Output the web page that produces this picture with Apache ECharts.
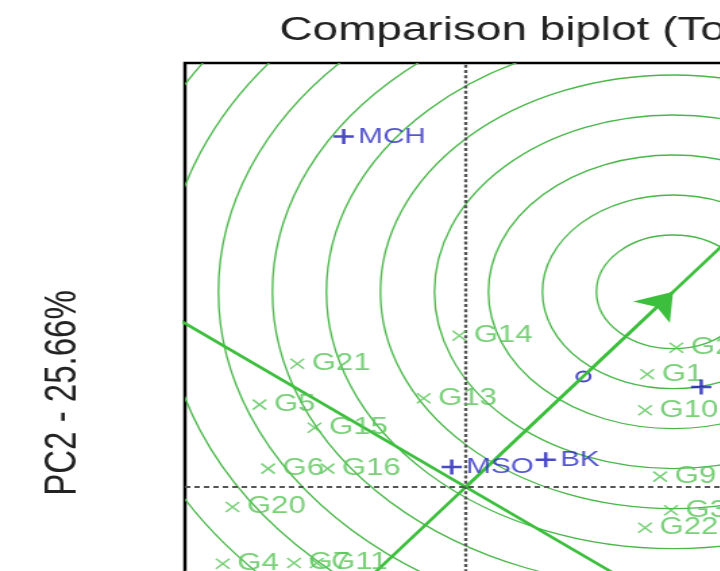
<!DOCTYPE html>
<html>
<head>
<meta charset="utf-8">
<script src="https://cdn.jsdelivr.net/npm/echarts@6/dist/echarts.min.js"></script>
<style>
  html, body { margin: 0; padding: 0; background: #fff; overflow: hidden; }
  #wrap { width: 720px; height: 571px; overflow: hidden; position: relative; }
  /* the biplot is drawn with an equal-aspect grid and widened horizontally */
  #chart { width: 640px; height: 760px; transform: scaleX(1.35); transform-origin: 0 0; }
</style>
</head>
<body>
<div id="wrap"><div id="chart"></div></div>
<script>
// Genotype scores (PC1, PC2)
const genotypes = ['G1', 'G2', 'G3', 'G4', 'G5', 'G6', 'G7', 'G9', 'G10', 'G11', 'G13', 'G14', 'G15', 'G16', 'G20', 'G21', 'G22'];
const genoPC1 = [1.68, 1.95, 1.90, -2.25, -1.91, -1.83, -1.59, 1.80, 1.66, -1.38, -0.39, -0.06, -1.40, -1.28, -2.16, -1.56, 1.66];
const genoPC2 = [1.41, 1.74, -0.29, -0.96, 1.03, 0.23, -0.95, 0.13, 0.96, -0.95, 1.11, 1.89, 0.74, 0.23, -0.25, 1.54, -0.51];

// Environment scores (PC1, PC2)
const environments = ['MCH', 'MSO', 'BK', ''];
const envPC1 = [-1.13, -0.13, 0.74, 2.18];
const envPC2 = [4.38, 0.25, 0.34, 1.25];

// Ideal environment (ring centre), average environment, ring radii
const idealEnv = [1.92, 2.44];
const averageEnv = [1.09, 1.38];
const ringRadii = [0.71, 1.21, 1.71, 2.21, 2.71, 3.21, 3.71, 4.21, 4.71, 5.21, 5.71, 6.21];

const GREEN_LINE = '#3cbf3c';
const GREEN_RING = '#48b748';
const GREEN_TEXT = '#58c458';
const BLUE = '#1c1cb4';
const BLUE_TEXT = '#2b2bc4';
const FONT = 'Liberation Sans, Arial, Helvetica, sans-serif';

// Average-environment axis through the origin and its perpendicular
const len = Math.hypot(idealEnv[0], idealEnv[1]);
const ux = idealEnv[0] / len, uy = idealEnv[1] / len;
const far = 20;
const aeaLine = [[-far * ux, -far * uy], [far * ux, far * uy]];
const perpLine = [[-far * uy, far * ux], [far * uy, -far * ux]];

const chart = echarts.init(document.getElementById('chart'), null, { renderer: 'canvas' });

chart.setOption({
  animation: false,
  backgroundColor: '#fff',
  title: {
    text: 'Comparison biplot (Total)',
    left: 202,
    top: 9,
    textStyle: { fontFamily: FONT, fontSize: 34, fontWeight: 'normal', color: '#222' }
  },
  grid: {
    left: 137, top: 63, width: 480, height: 660,
    outerBoundsMode: 'none',
    show: true, borderColor: '#000', borderWidth: 2.5, backgroundColor: 'transparent'
  },
  xAxis: {
    type: 'value', min: -2.6, max: 3.4,
    axisLine: { show: false }, axisTick: { show: false },
    axisLabel: { show: false }, splitLine: { show: false }
  },
  yAxis: {
    type: 'value', min: -2.95, max: 5.3,
    name: 'PC2 - 25.66%', nameLocation: 'middle', nameRotate: 90, nameGap: 74,
    nameTextStyle: { fontFamily: FONT, fontSize: 33, color: '#222' },
    axisLine: { show: false }, axisTick: { show: false },
    axisLabel: { show: false }, splitLine: { show: false }
  },
  series: [
    {
      // concentric rings around the ideal environment
      type: 'custom',
      silent: true,
      clip: true,
      z: 1,
      data: ringRadii.map(r => [idealEnv[0], idealEnv[1], r]),
      encode: { x: 0, y: 1 },
      renderItem: (params, api) => {
        const c = api.coord([api.value(0), api.value(1)]);
        const r = api.size([api.value(2), 0])[0];
        return {
          type: 'circle',
          shape: { cx: c[0], cy: c[1], r: r },
          style: { fill: 'none', stroke: GREEN_RING, lineWidth: 1.3 }
        };
      }
    },
    {
      // dashed reference axes through the origin
      type: 'line', data: [], silent: true, z: 2,
      markLine: {
        silent: true, symbol: 'none', label: { show: false },
        data: [
          { xAxis: 0, lineStyle: { color: '#555', width: 2.3, type: [3, 2.2] } },
          { yAxis: 0, lineStyle: { color: '#555', width: 2.2, type: [4, 3] } }
        ]
      }
    },
    {
      type: 'line', data: aeaLine, silent: true, z: 3, clip: true,
      showSymbol: false, symbol: 'none',
      lineStyle: { color: GREEN_LINE, width: 2.6 },
      markLine: {
        silent: true,
        symbol: ['none', 'arrow'],
        symbolSize: 26,
        label: { show: false },
        lineStyle: { color: GREEN_LINE, width: 2.6, type: 'solid' },
        data: [[{ coord: [0, 0] }, { coord: idealEnv }]]
      }
    },
    {
      type: 'line', data: perpLine, silent: true, z: 3, clip: true,
      showSymbol: false, symbol: 'none',
      lineStyle: { color: GREEN_LINE, width: 2.6 }
    },
    {
      // average environment marker
      type: 'scatter', z: 4, silent: true,
      data: [averageEnv],
      symbol: 'emptyCircle', symbolSize: 10,
      itemStyle: { color: BLUE, borderColor: BLUE, borderWidth: 2.5 }
    },
    {
      type: 'scatter', z: 5, silent: true,
      data: genotypes.map((g, i) => ({ name: g, value: [genoPC1[i], genoPC2[i]] })),
      symbol: 'path://M0,0L10,10M10,0L0,10',
      symbolSize: 10,
      itemStyle: { color: 'transparent', borderColor: GREEN_TEXT, borderWidth: 1.5 },
      label: {
        show: true, position: 'right', distance: 5, formatter: '{b}',
        fontFamily: FONT, fontSize: 23, color: GREEN_TEXT
      }
    },
    {
      type: 'scatter', z: 6, silent: true,
      data: environments.map((e, i) => ({ name: e, value: [envPC1[i], envPC2[i]] })),
      symbol: 'path://M5,0L5,10M0,5L10,5',
      symbolSize: 15,
      itemStyle: { color: 'transparent', borderColor: BLUE, borderWidth: 2.5 },
      label: {
        show: true, position: 'right', distance: 2, formatter: '{b}',
        fontFamily: FONT, fontSize: 22, color: BLUE_TEXT
      }
    }
  ]
});
</script>
</body>
</html>
